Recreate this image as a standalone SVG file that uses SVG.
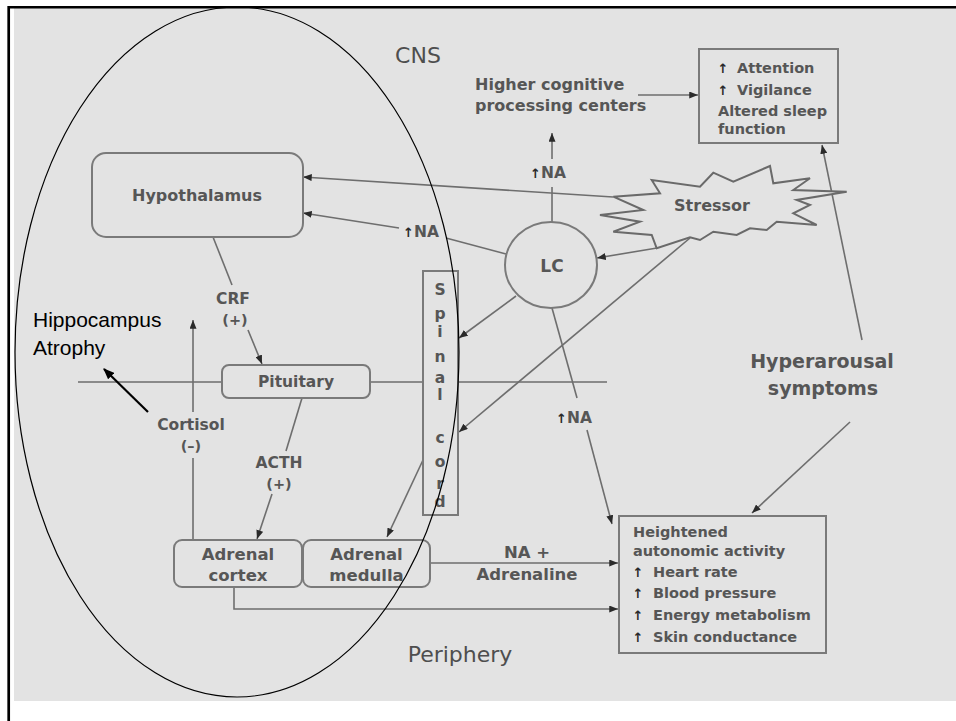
<svg xmlns="http://www.w3.org/2000/svg" width="956" height="721" viewBox="0 0 956 721">
<defs>
<style>
.t{font-family:"DejaVu Sans","Liberation Sans",sans-serif;font-weight:bold;fill:#565656;}
.r{font-family:"DejaVu Sans","Liberation Sans",sans-serif;font-weight:normal;fill:#4e4e4e;}
.c{text-anchor:middle}
.s14{font-size:14.5px}
.s15{font-size:15.5px}
.s16{font-size:16px}
.s165{font-size:16.5px}
.up{font-family:"DejaVu Sans",sans-serif;font-weight:bold;font-size:13px;fill:#2a2a2a}
.box{fill:none;stroke:#7a7a7a;stroke-width:2}
.ln{fill:none;stroke:#6e6e6e;stroke-width:1.6}
.ar{marker-end:url(#ah)}
</style>
<marker id="ah" viewBox="0 0 10 8" markerWidth="9" markerHeight="7" refX="10" refY="4" orient="auto" markerUnits="userSpaceOnUse"><path d="M0,0L10,4L0,8z" fill="#2a2a2a"/></marker>
<marker id="ahk" viewBox="0 0 10 8" markerWidth="12" markerHeight="9" refX="9" refY="4" orient="auto" markerUnits="userSpaceOnUse"><path d="M0,0L10,4L0,8z" fill="#000"/></marker>
</defs>
<rect x="0" y="0" width="956" height="721" fill="#ffffff"/>
<rect x="14" y="8" width="942" height="693" fill="#e3e3e3"/>
<line x1="8" y1="7.2" x2="956" y2="7.2" stroke="#000" stroke-width="2.4"/>
<line x1="8.7" y1="6" x2="8.7" y2="721" stroke="#000" stroke-width="2.7"/>

<g id="connectors">
<path class="ln ar" d="M613,197L303,177"/>
<path class="ln" d="M506,254L446,238"/>
<path class="ln ar" d="M399,228L303,213"/>
<path class="ln" d="M552,222L552,187"/>
<path class="ln ar" d="M552,159L552,133"/>
<path class="ln ar" d="M638,95L698,95"/>
<path class="ln ar" d="M657,248L597,258"/>
<path class="ln ar" d="M690,238L459,432"/>
<path class="ln ar" d="M516,296L459,338"/>
<path class="ln ar" d="M423,460L387,537"/>
<path class="ln" d="M552,308L577,398"/>
<path class="ln ar" d="M587,430L612,524"/>
<path class="ln" d="M213,237L232,285"/>
<path class="ln ar" d="M248,330L262,364"/>
<path class="ln" d="M302,398L286,451"/>
<path class="ln ar" d="M272,494L257,539"/>
<path class="ln" d="M193,540L193,458"/>
<path class="ln ar" d="M193,412L193,320"/>
<path class="ln ar" d="M430,563L618,563"/>
<path class="ln ar" d="M234,587L234,609L618,609"/>
<path class="ln ar" d="M862,340L822,145"/>
<path class="ln ar" d="M850,422L752,513"/>
<path class="ln" d="M78,382L222,382M370,382L423,382M458,382L607,382"/>
<path d="M148,412L104,369" stroke="#000" stroke-width="2.2" fill="none" marker-end="url(#ahk)"/>
</g>

<g id="cns"><text class="r c" x="418" y="63" font-size="22">CNS</text></g>
<g id="periphery"><text class="r c" x="460" y="662" font-size="22">Periphery</text></g>

<g id="hypothalamus">
<rect class="box" x="92" y="153" width="211" height="84" rx="14"/>
<text class="t c s16" x="197" y="201">Hypothalamus</text>
</g>

<g id="pituitary">
<rect class="box" x="222" y="365" width="148" height="33" rx="7"/>
<text class="t c s15" x="296" y="387">Pituitary</text>
</g>

<g id="adrenal-cortex">
<rect class="box" x="174" y="540" width="128" height="47" rx="8"/>
<text class="t c s165" x="238" y="560">Adrenal</text>
<text class="t c s165" x="238" y="581">cortex</text>
</g>

<g id="adrenal-medulla">
<rect class="box" x="303" y="540" width="127" height="47" rx="8"/>
<text class="t c s165" x="366.5" y="560">Adrenal</text>
<text class="t c s165" x="366.5" y="581">medulla</text>
</g>

<g id="spinal-cord">
<rect class="box" x="423" y="271" width="35" height="244"/>
<text class="t c s15" x="440" y="295">S</text>
<text class="t c s15" x="440" y="319">p</text>
<text class="t c s15" x="440" y="337">i</text>
<text class="t c s15" x="440" y="362">n</text>
<text class="t c s15" x="440" y="383">a</text>
<text class="t c s15" x="440" y="400">l</text>
<text class="t c s15" x="440" y="443">c</text>
<text class="t c s15" x="440" y="467">o</text>
<text class="t c s15" x="440" y="489">r</text>
<text class="t c s15" x="440" y="507">d</text>
</g>

<g id="lc">
<ellipse cx="551" cy="265" rx="46" ry="43" fill="none" stroke="#7a7a7a" stroke-width="2"/>
<text class="t c" x="552" y="272" font-size="17">LC</text>
</g>

<g id="stressor">
<polygon points="651.7,180 660,193.3 613.3,196.7 643.3,210 600,215 640,221.7 613.3,231.7 651.7,235 656.7,248.3 690,237.3 700,240 713.3,231.7 736.7,235 750,228.3 766.7,230 776.7,221.7 816.7,225 793.3,213.3 810,205 796.7,200 846.7,191.7 793.3,190 810,178.3 773.3,183.3 770,166 733.3,181.7 713.3,172.7 700,186.7" fill="#e3e3e3" stroke="#6a6a6a" stroke-width="2" stroke-linejoin="miter"/>
<text class="t c s16" x="712" y="211">Stressor</text>
</g>

<g id="higher-cognitive">
<text class="t s16" x="475" y="90">Higher cognitive</text>
<text class="t s16" x="475" y="111">processing centers</text>
</g>

<g id="attention-box">
<rect class="box" x="699" y="49" width="139" height="94"/>
<text class="up c" x="723" y="73">↑</text>
<text class="t s14" x="737" y="73">Attention</text>
<text class="up c" x="723" y="95">↑</text>
<text class="t s14" x="737" y="95">Vigilance</text>
<text class="t s14" x="718" y="116">Altered sleep</text>
<text class="t s14" x="718" y="134">function</text>
</g>

<g id="autonomic-box">
<rect class="box" x="619" y="516" width="207" height="137"/>
<text class="t s14" x="633" y="537">Heightened</text>
<text class="t s14" x="633" y="556">autonomic activity</text>
<text class="up c" x="638" y="577">↑</text>
<text class="t s14" x="653" y="577">Heart rate</text>
<text class="up c" x="638" y="598">↑</text>
<text class="t s14" x="653" y="598">Blood pressure</text>
<text class="up c" x="638" y="620">↑</text>
<text class="t s14" x="653" y="620">Energy metabolism</text>
<text class="up c" x="638" y="642">↑</text>
<text class="t s14" x="653" y="642">Skin conductance</text>
</g>

<g id="hyperarousal">
<text class="t c" x="822" y="368" font-size="19">Hyperarousal</text>
<text class="t c" x="823" y="395" font-size="19">symptoms</text>
</g>

<g id="labels">
<text class="t s15" x="403" y="237"><tspan class="up" fill="#2a2a2a">↑</tspan>NA</text>
<text class="t s15" x="530" y="178"><tspan class="up" fill="#2a2a2a">↑</tspan>NA</text>
<text class="t s15" x="556" y="423"><tspan class="up" fill="#2a2a2a">↑</tspan>NA</text>
<text class="t c s15" x="233" y="304">CRF</text>
<text class="t c s14" x="235" y="325">(+)</text>
<text class="t c s15" x="191" y="430">Cortisol</text>
<text class="t c s14" x="191" y="451">(–)</text>
<text class="t c s15" x="279" y="468">ACTH</text>
<text class="t c s14" x="279" y="489">(+)</text>
<text class="t c s165" x="527" y="558">NA +</text>
<text class="t c s165" x="527" y="580">Adrenaline</text>
</g>

<g id="hippocampus">
<text x="33" y="327" font-family="Liberation Sans, Arial, sans-serif" font-size="21" fill="#000">Hippocampus</text>
<text x="33" y="355" font-family="Liberation Sans, Arial, sans-serif" font-size="21" fill="#000">Atrophy</text>
</g>

<g id="ellipse">
<ellipse cx="237" cy="352" rx="222" ry="345" fill="none" stroke="#000" stroke-width="1.2"/>
</g>
</svg>
